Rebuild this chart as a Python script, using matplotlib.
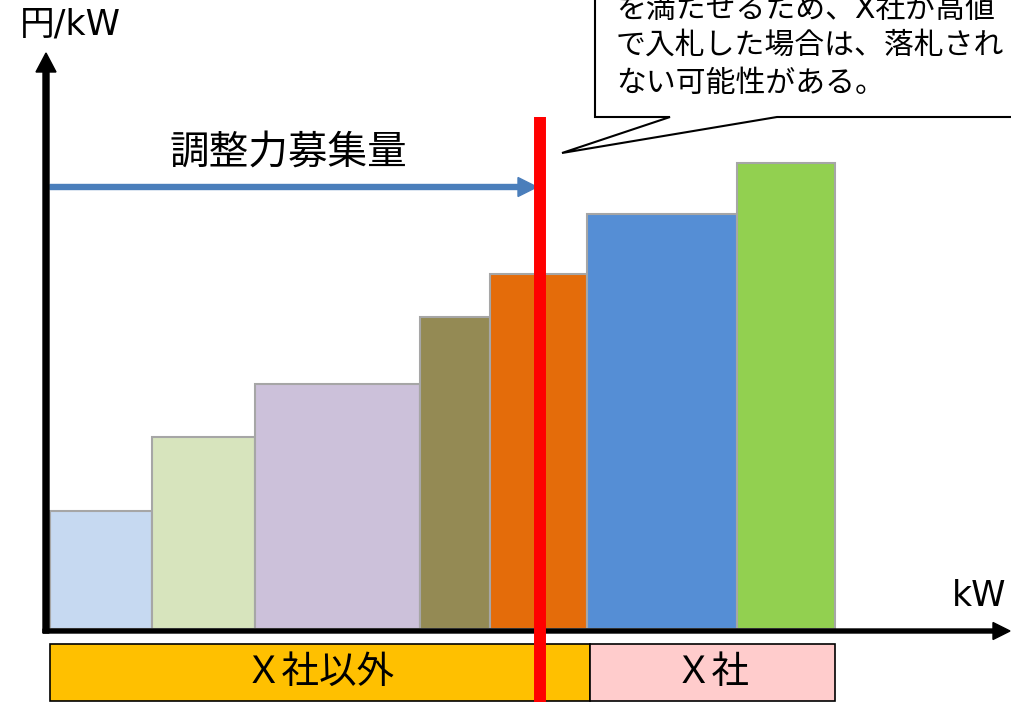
import numpy as np
import matplotlib
matplotlib.use("Agg")
import matplotlib.pyplot as plt
from matplotlib.patches import Polygon

plt.rcParams['font.family'] = ['DejaVu Sans', 'Noto Sans CJK JP']

# merit order: offered capacity (kW) and bid price (yen/kW) per bidder
capacity = [102, 103, 165, 70, 97, 150, 98]
price = [118, 192, 245, 312, 355, 415, 466]
bar_colors = ['#C6D9F1', '#D7E4BD', '#CCC1DA', '#948A54', '#E46C0A', '#558ED5', '#92D050']

# bidder groups (number of bars in each)
groups = ['Ｘ社以外', 'Ｘ社']
group_sizes = [5, 2]
group_colors = ['#FFC000', '#FFCCCC']

procured = 490      # 調整力募集量 (kW)
note_lines = ['を満たせるため、X社が高値',
              'で入札した場合は、落札され',
              'ない可能性がある。']

fig = plt.figure(figsize=(10.11, 7.02), dpi=100)
ax = fig.add_axes([0, 0, 1, 1])
ax.set_xlim(-50, 961)
ax.set_ylim(-73, 629)
ax.axis('off')

lefts = np.concatenate([[0], np.cumsum(capacity)[:-1]])
ax.bar(lefts, price, width=capacity, align='edge', color=bar_colors,
       edgecolor='#A6A6A6', linewidth=1.5, zorder=2)

# group boxes under the x axis
ends = np.cumsum(capacity)
starts_idx = np.concatenate([[0], np.cumsum(group_sizes)[:-1]])
end_idx = np.cumsum(group_sizes) - 1
g_left = [0 if i == 0 else ends[i - 1] + 3 for i in starts_idx]
g_right = [ends[i] + (3 if i < len(capacity) - 1 else 0) for i in end_idx]
g_width = [r - l for l, r in zip(g_left, g_right)]
ax.barh(-43.5, g_width, left=g_left, height=57, color=group_colors,
        edgecolor='black', linewidth=1.2, zorder=2)
for name, l, w in zip(groups, g_left, g_width):
    ax.text(l + w / 2, -44, name, ha='center', va='center', fontsize=27, zorder=3)

# axes drawn as arrows
ax.arrow(-4, -4, 0, 580, width=6, head_width=20, head_length=19,
         length_includes_head=True, color='black', zorder=4)
ax.arrow(-7, -2, 967, 0, width=4, head_width=17, head_length=17,
         length_includes_head=True, color='black', zorder=4)
ax.text(20, 604, '円/kW', ha='center', va='center', fontsize=25)
ax.text(929, 33, 'kW', ha='center', va='center', fontsize=25)

# procurement volume arrow
ax.arrow(0, 442, procured - 3, 0, width=5, head_width=19, head_length=19,
         length_includes_head=True, color='#4A7EBB', zorder=3)
ax.text(238, 476, '調整力募集量', ha='center', va='center', fontsize=28.5)

# callout
callout = Polygon([(545, 700), (545, 512), (620, 512), (512, 476), (727, 512),
                   (990, 512), (990, 700)], closed=True, facecolor='white',
                  edgecolor='black', linewidth=1.5, zorder=3)
ax.add_patch(callout)
for y, line in zip([620, 584, 546], note_lines):
    ax.text(566, y, line, ha='left', va='center', fontsize=21.5, zorder=4)

# procurement line
ax.plot([procured, procured], [-73, 512], color='#FF0000', lw=8.6, zorder=5,
        solid_capstyle='butt')

fig.savefig('out.png', dpi=100)
